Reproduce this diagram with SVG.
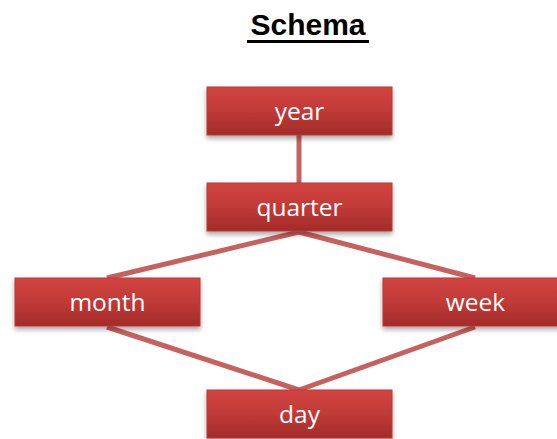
<svg xmlns="http://www.w3.org/2000/svg" width="557" height="439" viewBox="0 0 557 439">
<defs>
<linearGradient id="g" x1="0" y1="0" x2="0" y2="1">
<stop offset="0" stop-color="#d24440"/>
<stop offset="0.5" stop-color="#c03a37"/>
<stop offset="1" stop-color="#a32b29"/>
</linearGradient>
<filter id="sh" x="-10%" y="-20%" width="120%" height="160%">
<feDropShadow dx="0" dy="3" stdDeviation="2.5" flood-color="#000" flood-opacity="0.35"/>
</filter>
</defs>
<style>
.box{fill:url(#g);stroke:#b83a37;stroke-width:1;filter:url(#sh)}
.lbl{font-family:"Open Sans","Liberation Sans",sans-serif;font-size:24.5px;fill:#fff;text-anchor:middle}
.c{stroke:#c0504d;stroke-width:5;fill:none;stroke-opacity:0.9}
.t{font-family:"Liberation Sans",sans-serif;font-weight:bold;font-size:30px;text-anchor:middle;fill:#000}
</style>
<rect width="557" height="439" fill="#fff"/>
<text class="t" x="308" y="35">Schema</text>
<rect x="247" y="40" width="122" height="3" fill="#000"/>
<g id="connectors">
<line class="c" x1="299" y1="135" x2="299" y2="183"/>
<line class="c" x1="299" y1="232" x2="107" y2="278"/>
<line class="c" x1="299" y1="232" x2="475" y2="278"/>
<line class="c" x1="107" y1="327" x2="299" y2="390"/>
<line class="c" x1="475" y1="327" x2="299" y2="390"/>
</g>
<g id="year"><rect class="box" x="207" y="87" width="185" height="48"/><text class="lbl" x="299.5" y="120">year</text></g>
<g id="quarter"><rect class="box" x="207" y="183" width="185" height="48"/><text class="lbl" x="299.5" y="216">quarter</text></g>
<g id="month"><rect class="box" x="15" y="278" width="185" height="48"/><text class="lbl" x="107.5" y="311">month</text></g>
<g id="week"><rect class="box" x="383" y="278" width="185" height="48"/><text class="lbl" x="475.5" y="311">week</text></g>
<g id="day"><rect class="box" x="207" y="390" width="185" height="48"/><text class="lbl" x="299.5" y="423">day</text></g>
</svg>
